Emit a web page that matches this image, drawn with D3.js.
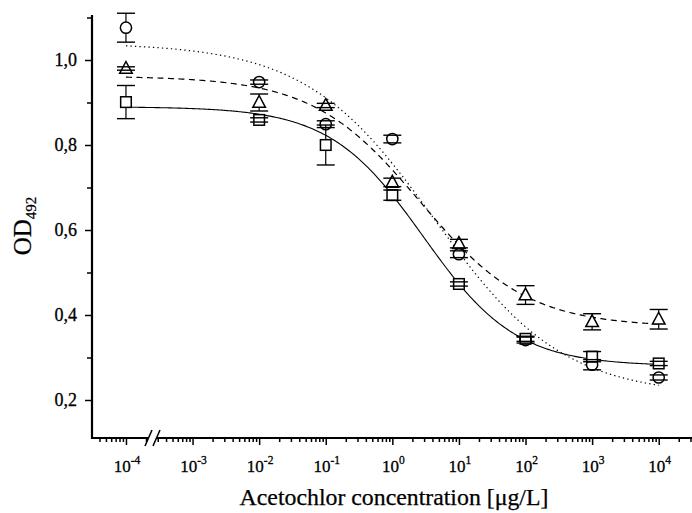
<!DOCTYPE html>
<html>
<head>
<meta charset="utf-8">
<script src="https://cdn.jsdelivr.net/npm/d3@7"></script>
<style>
  html, body { margin: 0; padding: 0; background: #fff; }
  svg { display: block; }
  text { font-family: "Liberation Serif", "Times New Roman", serif; fill: #000; }
</style>
</head>
<body>
<svg id="chart" width="692" height="513"></svg>
<script>
// ---- data ----
const concentrations = [1e-4, 1e-2, 1e-1, 1, 10, 100, 1000, 10000];
const circleMean = [1.076, 0.948, 0.849, 0.814, 0.543, 0.341, 0.283, 0.253];
const circleErr  = [0.034, 0.005, 0.008, 0.009, 0.008, 0.007, 0.012, 0.006];
const triMean    = [0.980, 0.900, 0.893, 0.712, 0.568, 0.447, 0.384, 0.390];
const triErr     = [0.004, 0.020, 0.005, 0.010, 0.010, 0.022, 0.019, 0.023];
const squareMean = [0.901, 0.859, 0.800, 0.682, 0.473, 0.344, 0.302, 0.286];
const squareErr  = [0.039, 0.005, 0.047, 0.012, 0.005, 0.006, 0.012, 0.005];

// logistic fit parameters (circle / triangle / square)
const fitNames   = ["circle", "triangle", "square"];
const fitTop     = [1.040, 0.962, 0.890];
const fitBottom  = [0.210, 0.372, 0.280];
const fitEC50    = [4.3, 2.6, 2.9];
const fitSlope   = [0.45, 0.54, 0.62];
const fitDash    = ["1.3,3.2", "6,4.5", null];

const xMajorExponents = [-4, -3, -2, -1, 0, 1, 2, 3, 4];
const yMajorTicks = [0.2, 0.4, 0.6, 0.8, 1.0];
const yMinorTicks = [0.3, 0.5, 0.7, 0.9, 1.1];

const xTitle = "Acetochlor concentration [\u03bcg/L]";
const yTitleMain = "OD";
const yTitleSub = "492";

// ---- scales ----
const svg = d3.select("#chart");
const x = d3.scaleLog().domain([Math.pow(10, -4.51), Math.pow(10, 4.5)]).range([92, 692]);
const y = d3.scaleLinear().domain([0.11, 1.1]).range([438.25, 17.5]);

// ---- fitted curves ----
const logistic = (i, c) => fitBottom[i] + (fitTop[i] - fitBottom[i]) / (1 + Math.pow(c / fitEC50[i], fitSlope[i]));
const line = d3.line().x(d => x(d[0])).y(d => y(d[1])).curve(d3.curveLinear);
fitNames.forEach((n, i) => {
  const pts = d3.range(-4, 4.0001, 0.02).map(e => { const c = Math.pow(10, e); return [c, logistic(i, c)]; });
  svg.append("path").attr("d", line(pts))
    .attr("fill", "none").attr("stroke", "#000").attr("stroke-width", fitDash[i] ? 1.2 : 1.1)
    .attr("stroke-dasharray", fitDash[i]);
});

// ---- markers, then error bars (stems start at marker edge, caps always drawn) ----
const series = [
  {mean: circleMean, err: circleErr, shape: "circle", top: 5.6, bottom: 5.6},
  {mean: triMean, err: triErr, shape: "triangle", top: 7, bottom: 4.8},
  {mean: squareMean, err: squareErr, shape: "square", top: 5.3, bottom: 5.3}
];
series.forEach(s => {
  const g = svg.append("g");
  concentrations.forEach((c, j) => {
    const cx = x(c), cy = y(s.mean[j]);
    let m;
    if (s.shape === "circle") m = g.append("circle").attr("cx", cx).attr("cy", cy).attr("r", 5.6);
    else if (s.shape === "square") m = g.append("rect").attr("x", cx - 5.3).attr("y", cy - 5.3).attr("width", 10.6).attr("height", 10.6);
    else m = g.append("path").attr("d", `M${cx},${cy - 7}L${cx + 6.3},${cy + 4.8}L${cx - 6.3},${cy + 4.8}Z`);
    m.attr("fill", "#fff").attr("stroke", "#000").attr("stroke-width", 1.5);
  });
});
const capW = 9;
series.forEach(s => {
  const g = svg.append("g");
  concentrations.forEach((c, j) => {
    const cx = x(c), cy = y(s.mean[j]);
    const y1 = y(s.mean[j] + s.err[j]), y0 = y(s.mean[j] - s.err[j]);
    if (y1 < cy - s.top) g.append("line").attr("x1", cx).attr("x2", cx).attr("y1", y1).attr("y2", cy - s.top).attr("stroke", "#000").attr("stroke-width", 1.2);
    if (y0 > cy + s.bottom) g.append("line").attr("x1", cx).attr("x2", cx).attr("y1", cy + s.bottom).attr("y2", y0).attr("stroke", "#000").attr("stroke-width", 1.2);
    [y1, y0].forEach(yy => g.append("line").attr("x1", cx - capW).attr("x2", cx + capW).attr("y1", yy).attr("y2", yy).attr("stroke", "#000").attr("stroke-width", 1.4));
  });
});

// ---- axes ----
const minorX = [];
for (let d = -5; d <= 4; d++) for (let k = 2; k <= 9; k++) {
  const v = k * Math.pow(10, d);
  if (v >= x.domain()[0] && v <= x.domain()[1]) minorX.push(v);
}
const majorX = xMajorExponents.map(e => Math.pow(10, e));

const gx = svg.append("g").attr("transform", "translate(0,438)");
gx.append("g").call(d3.axisBottom(x).tickValues(minorX).tickSize(4).tickFormat("")).call(g => g.select(".domain").remove());
gx.append("g").call(d3.axisBottom(x).tickValues(majorX).tickSize(7).tickFormat("")).call(g => g.select(".domain").remove());
gx.append("line").attr("x1", 91).attr("x2", 692).attr("y1", 0).attr("y2", 0).attr("stroke", "#000").attr("stroke-width", 2.2);
gx.selectAll(".tick line").attr("stroke", "#000").attr("stroke-width", 1.5);

// x labels with superscripts
xMajorExponents.forEach(e => {
  const t = svg.append("text").attr("x", x(Math.pow(10, e)) + 1).attr("y", 472).attr("text-anchor", "middle")
    .style("font-size", "17px").style("stroke", "#000").style("stroke-width", 0.3);
  t.append("tspan").text("10");
  t.append("tspan").attr("dy", -8).style("font-size", "11.5px").text(String(e));
});

// axis break
svg.append("rect").attr("x", 148).attr("y", 434).attr("width", 8).attr("height", 8).attr("fill", "#fff");
[[145, 152], [153, 160]].forEach(p => svg.append("line")
  .attr("x1", p[0]).attr("y1", 446).attr("x2", p[1]).attr("y2", 430).attr("stroke", "#000").attr("stroke-width", 1.5));

const gy = svg.append("g").attr("transform", "translate(92,0)");
gy.append("g").call(d3.axisLeft(y).tickValues(yMinorTicks).tickSize(5).tickFormat("")).call(g => g.select(".domain").remove());
gy.append("g").call(d3.axisLeft(y).tickValues(yMajorTicks).tickSize(7).tickFormat(d => d3.format(".1f")(d).replace(".", ",")))
  .call(g => g.select(".domain").remove())
  .call(g => g.selectAll("text").attr("x", -15).style("font-size", "18px")
    .style("font-family", "'Liberation Serif', serif").style("stroke", "#000").style("stroke-width", 0.3));
gy.append("line").attr("x1", 0).attr("x2", 0).attr("y1", 15).attr("y2", 439).attr("stroke", "#000").attr("stroke-width", 2.2);
gy.selectAll(".tick line").attr("stroke", "#000").attr("stroke-width", 1.5);

// titles
svg.append("text").attr("x", 394).attr("y", 505).attr("text-anchor", "middle").style("font-size", "23.8px")
  .style("stroke", "#000").style("stroke-width", 0.25).text(xTitle);
const yt = svg.append("text").attr("transform", "translate(31,226) rotate(-90)").attr("text-anchor", "middle")
  .style("font-size", "25px").style("stroke", "#000").style("stroke-width", 0.25);
yt.append("tspan").text(yTitleMain);
yt.append("tspan").attr("dy", 5).style("font-size", "15px").text(yTitleSub);
</script>
</body>
</html>
